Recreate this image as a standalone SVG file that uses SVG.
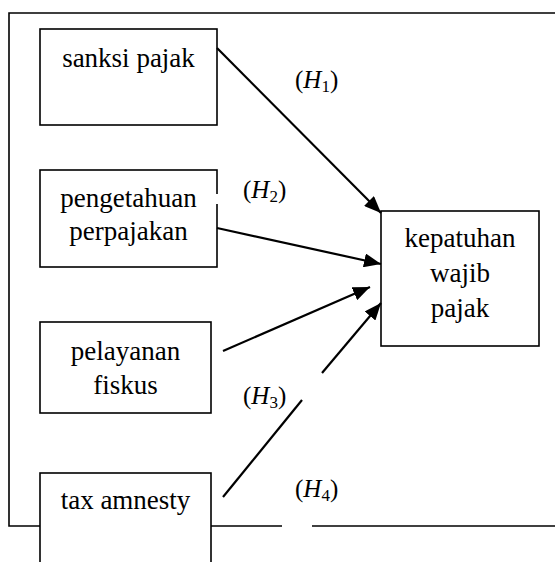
<svg xmlns="http://www.w3.org/2000/svg" width="555" height="562" viewBox="0 0 555 562">
<style>
.box{fill:#fff;stroke:#000;stroke-width:1.6}
.frame{fill:none;stroke:#000;stroke-width:1.6}
.t{font-family:"Liberation Serif","DejaVu Serif",serif;font-size:27px;fill:#000;text-anchor:middle}
.h{font-family:"Liberation Serif","DejaVu Serif",serif;font-size:25px;fill:#000}
.hi{font-style:italic}
.s{font-size:17px}
.c{stroke:#000;stroke-width:2.2;fill:none}
</style>
<defs>
<marker id="ah" markerUnits="userSpaceOnUse" markerWidth="18" markerHeight="14" refX="17" refY="7" orient="auto">
<path d="M0,0 L17,7 L0,14 Z" fill="#000"/>
</marker>
</defs>
<g id="frame">
<path class="frame" d="M555,13 H9 V526 H282"/>
<path class="frame" d="M312,526 H555"/>
</g>
<g id="n1"><rect class="box" x="40" y="29" width="177" height="96"/><text class="t" x="128.5" y="67">sanksi pajak</text></g>
<g id="n2"><rect class="box" x="40" y="170" width="177" height="97"/><rect x="215" y="194" width="4" height="10" fill="#fff"/><text class="t" x="128.5" y="207">pengetahuan</text><text class="t" x="128.5" y="240">perpajakan</text></g>
<g id="n3"><rect class="box" x="40" y="322" width="171" height="91"/><text class="t" x="125.5" y="360">pelayanan</text><text class="t" x="125.5" y="394">fiskus</text></g>
<g id="n4"><rect class="box" x="40" y="473" width="171" height="100"/><text class="t" x="125.5" y="509">tax amnesty</text></g>
<g id="n5"><rect class="box" x="381" y="211" width="158" height="135"/><text class="t" x="460" y="247">kepatuhan</text><text class="t" x="460" y="282">wajib</text><text class="t" x="460" y="317">pajak</text></g>
<g id="connectors">
<line class="c" x1="217" y1="48" x2="381" y2="213" marker-end="url(#ah)"/>
<line class="c" x1="217" y1="228" x2="381" y2="264" marker-end="url(#ah)"/>
<line class="c" x1="223" y1="351" x2="370" y2="287" marker-end="url(#ah)"/>
<line class="c" x1="223" y1="497" x2="302" y2="400"/>
<line class="c" x1="322" y1="373" x2="381" y2="303" marker-end="url(#ah)"/>
</g>
<g id="labels">
<text class="h" x="295" y="88">(<tspan class="hi">H</tspan><tspan class="s" dy="4">1</tspan><tspan dy="-4">)</tspan></text>
<text class="h" x="243" y="198">(<tspan class="hi">H</tspan><tspan class="s" dy="4">2</tspan><tspan dy="-4">)</tspan></text>
<text class="h" x="243" y="404">(<tspan class="hi">H</tspan><tspan class="s" dy="4">3</tspan><tspan dy="-4">)</tspan></text>
<text class="h" x="295" y="497">(<tspan class="hi">H</tspan><tspan class="s" dy="4">4</tspan><tspan dy="-4">)</tspan></text>
</g>
</svg>
